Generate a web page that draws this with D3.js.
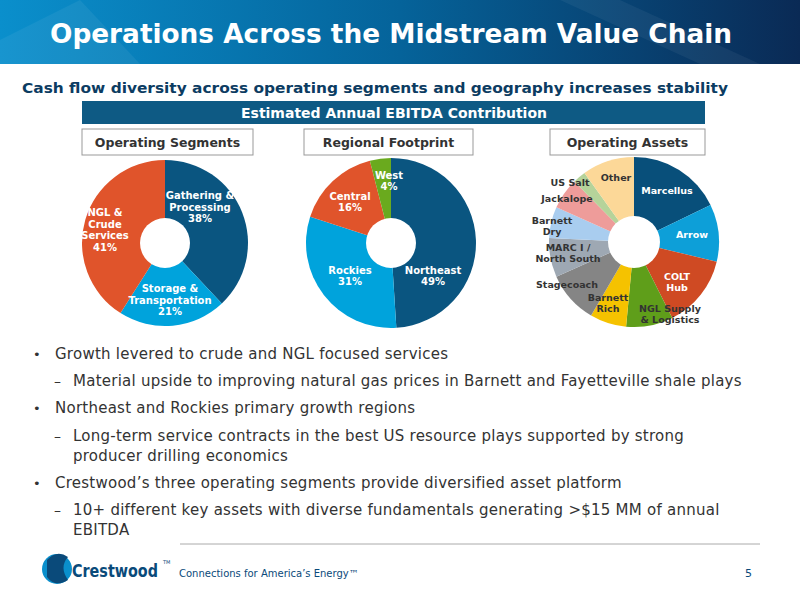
<!DOCTYPE html>
<html><head><meta charset="utf-8">
<script src="https://cdn.jsdelivr.net/npm/d3@7"></script>
<style>body{margin:0;background:#fff}svg{display:block}</style></head>
<body><svg id="c" width="800" height="600"></svg>
<script>
const segLabels=["Gathering &|Processing|38%","Storage &|Transportation|21%","NGL &|Crude|Services|41%"];
const segValues=[38,21,41];
const segColors=["#0a5580","#00a3dc","#e0542b"];
const regLabels=["Northeast|49%","Rockies|31%","Central|16%","West|4%"];
const regValues=[49,31,16,4];
const regColors=["#0a5580","#00a3dc","#e0542b","#6aaa1e"];
const assetLabels=["Marcellus","Arrow","COLT|Hub","NGL Supply|& Logistics","Barnett|Rich","Stagecoach","MARC I /|North South","Barnett|Dry","Jackalope","US Salt","Other"];
const assetValues=[18,11,14,9,7,10,7.5,6,6,2.5,10];
const assetColors=["#084f7a","#0d9fd8","#cf4a23","#5f9e1a","#f5c200","#858585","#9ea8b3","#a9cdef","#ee9c9a","#b5d39a","#fcd898"];
const bullets=[
 {lvl:0,lines:["Growth levered to crude and NGL focused services"]},
 {lvl:1,lines:["Material upside to improving natural gas prices in Barnett and Fayetteville shale plays"]},
 {lvl:0,lines:["Northeast and Rockies primary growth regions"]},
 {lvl:1,lines:["Long-term service contracts in the best US resource plays supported by strong","producer drilling economics"]},
 {lvl:0,lines:["Crestwood’s three operating segments provide diversified asset platform"]},
 {lvl:1,lines:["10+ different key assets with diverse fundamentals generating >$15 MM of annual","EBITDA"]}
];
const svg=d3.select("#c");
const F="DejaVu Sans";
const defs=svg.append("defs");
const g=defs.append("linearGradient").attr("id","hg");
g.append("stop").attr("offset","0").attr("stop-color","#0a8fcc");
g.append("stop").attr("offset","0.5").attr("stop-color","#05639a");
g.append("stop").attr("offset","1").attr("stop-color","#0a2a55");
svg.append("rect").attr("width",800).attr("height",64).attr("fill","url(#hg)");
svg.append("path").attr("d","M80,0 L140,64 L0,64 L0,40Z").attr("fill","#fff").attr("opacity",0.06);
svg.append("path").attr("d","M560,0 L700,64 L760,64 L620,0Z").attr("fill","#fff").attr("opacity",0.05);
svg.append("text").attr("x",391).attr("y",43).attr("text-anchor","middle").attr("fill","#fff")
 .attr("font-family",F).attr("font-weight","bold").attr("font-size",27).attr("textLength",682).attr("lengthAdjust","spacingAndGlyphs").text("Operations Across the Midstream Value Chain");
svg.append("text").attr("x",22).attr("y",93).attr("fill","#0c3c62").attr("font-family",F).attr("font-weight","bold")
 .attr("font-size",14).attr("textLength",706).attr("lengthAdjust","spacingAndGlyphs").text("Cash flow diversity across operating segments and geography increases stability");
svg.append("rect").attr("x",82).attr("y",101).attr("width",623).attr("height",23).attr("fill","#0e5a84");
svg.append("text").attr("x",394).attr("y",118).attr("text-anchor","middle").attr("fill","#fff").attr("font-family",F)
 .attr("font-weight","bold").attr("font-size",14).text("Estimated Annual EBITDA Contribution");
[[82,253,"Operating Segments"],[304,473,"Regional Footprint"],[550,705,"Operating Assets"]].forEach(([a,b,t])=>{
 svg.append("rect").attr("x",a).attr("y",129).attr("width",b-a).attr("height",26).attr("fill","#fff").attr("stroke","#999");
 svg.append("text").attr("x",(a+b)/2).attr("y",147).attr("text-anchor","middle").attr("font-family",F).attr("font-weight","bold")
  .attr("font-size",12.5).attr("fill","#333").text(t);
});
function pie(cx,cy,R,vals,cols,labels,opts){
 const arcs=d3.pie().sort(null)(vals);
 const arc=d3.arc().innerRadius(0).outerRadius(R);
 const gg=svg.append("g").attr("transform",`translate(${cx},${cy})`);
 gg.selectAll("path").data(arcs).join("path").attr("d",arc).attr("fill",(d,i)=>cols[i]);
 gg.append("circle").attr("r",opts.hole).attr("fill","#fff");
 arcs.forEach((d,i)=>{
  const c=opts.pos[i];
  const lines=labels[i].split("|");
  const t=gg.append("text").attr("text-anchor","middle").attr("font-family",F).attr("font-weight","bold")
   .attr("font-size",opts.fs).attr("fill",opts.fill[i]);
  lines.forEach((l,j)=>t.append("tspan").attr("x",c[0]).attr("y",c[1]+(j-(lines.length-1)/2)*opts.fs*1.15+opts.fs*0.35).text(l));
 });
}
pie(165,243,83,segValues,segColors,segLabels,{hole:25,fs:10,fill:["#fff","#fff","#fff"],pos:[[35,-36],[5,57],[-60,-13]]});
pie(391,243,85,regValues,regColors,regLabels,{hole:25,fs:10,fill:["#fff","#fff","#fff","#fff"],pos:[[42,33],[-41,33],[-41,-41],[-2,-62]]});
pie(634,242,85,assetValues,assetColors,assetLabels,{hole:26,fs:9.5,
 fill:["#fff","#fff","#fff","#333","#333","#333","#333","#333","#333","#333","#333"],
 pos:[[33,-51],[58,-7],[43,40],[36,72],[-26,61],[-67,43],[-66,11],[-82,-16],[-67,-43],[-64,-59],[-18,-64]]});
const by=[359,386,413,441,488,515];
bullets.forEach((b,i)=>{
 const x=b.lvl?73:55;
 svg.append("text").attr("x",b.lvl?54:33).attr("y",by[i]).attr("font-family",F).attr("font-size",b.lvl?14:13).attr("fill","#333").text(b.lvl?"–":"•");
 b.lines.forEach((l,j)=>svg.append("text").attr("x",x).attr("y",by[i]+j*20).attr("font-family",F).attr("font-size",15).attr("letter-spacing",0.25).attr("fill","#333").text(l));
});
svg.append("line").attr("x1",180).attr("x2",760).attr("y1",544).attr("y2",544).attr("stroke","#aaa");
svg.append("circle").attr("cx",57).attr("cy",569).attr("r",15).attr("fill","#0a8fcc");
svg.append("path").attr("d","M47,560 Q57,549 68,557 Q59,567 68,580 Q55,588 47,577Z").attr("fill","#0a4a7a");
svg.append("text").attr("x",72).attr("y",577).attr("font-family",F).attr("font-weight","bold").attr("font-size",17).attr("fill","#0a4a7a").attr("textLength",86).attr("lengthAdjust","spacingAndGlyphs").text("Crestwood");
svg.append("text").attr("x",163).attr("y",564).attr("font-family",F).attr("font-size",5).attr("fill","#0a4a7a").text("TM");
svg.append("text").attr("x",179).attr("y",577).attr("font-family",F).attr("font-size",10).attr("fill","#0a4a7a").text("Connections for America’s Energy™");
svg.append("text").attr("x",752).attr("y",577).attr("text-anchor","end").attr("font-family",F).attr("font-size",11).attr("fill","#0a4a7a").text("5");
</script></body></html>
